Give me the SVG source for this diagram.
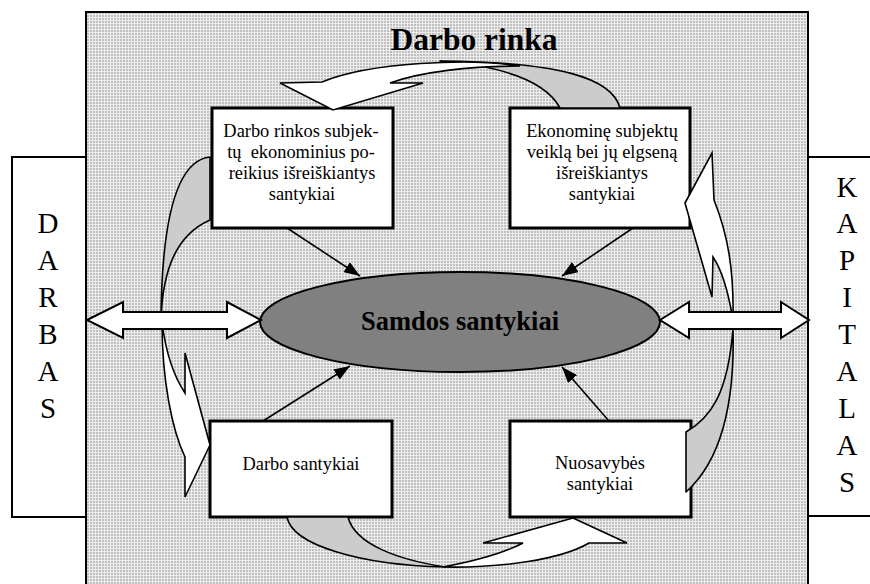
<svg xmlns="http://www.w3.org/2000/svg" width="870" height="584" viewBox="0 0 870 584" font-family="'Liberation Serif', 'Times New Roman', Times, serif">
<defs>
<pattern id="dots" width="3" height="3" patternUnits="userSpaceOnUse"><rect width="3" height="3" fill="#ececec"/><rect width="2" height="2" fill="#bfbfbf"/></pattern>
<marker id="ah" viewBox="0 0 16 12" refX="16" refY="6" markerWidth="16" markerHeight="12" markerUnits="userSpaceOnUse" orient="auto"><path d="M0,0 L16,6 L0,12 Z" fill="#000"/></marker>
<style>
text{font-family:'Liberation Serif','Times New Roman',Times,serif;fill:#000}
.box{fill:#fff;stroke:#000;stroke-width:3}
.side{fill:#fff;stroke:#000;stroke-width:2}
.back{fill:#cccccc;stroke:#000;stroke-width:1.6;stroke-linejoin:round}
.front{fill:#fff;stroke:#000;stroke-width:1.6;stroke-linejoin:miter}
.dbl{fill:#fff;stroke:#000;stroke-width:2;stroke-linejoin:miter}
.ln{stroke:#000;stroke-width:1.6;fill:none}
.side-t{font-size:29px;text-anchor:middle}
.bt{font-size:18.4px;text-anchor:middle;white-space:pre}
</style>
</defs>
<rect x="86" y="12" width="722" height="590" fill="url(#dots)" stroke="#000" stroke-width="2"/>
<g id="darbas">
<rect class="side" x="12" y="157" width="74" height="360"/>
<text class="side-t" x="48" y="233">D</text>
<text class="side-t" x="48" y="270">A</text>
<text class="side-t" x="48" y="307">R</text>
<text class="side-t" x="48" y="344">B</text>
<text class="side-t" x="48" y="381">A</text>
<text class="side-t" x="48" y="418">S</text>
</g>
<g id="kapitalas">
<rect class="side" x="808" y="157" width="80" height="359"/>
<text class="side-t" x="847" y="197">K</text>
<text class="side-t" x="847" y="233">A</text>
<text class="side-t" x="847" y="270">P</text>
<text class="side-t" x="847" y="307">I</text>
<text class="side-t" x="847" y="344">T</text>
<text class="side-t" x="847" y="381">A</text>
<text class="side-t" x="847" y="418">L</text>
<text class="side-t" x="847" y="455">A</text>
<text class="side-t" x="847" y="492">S</text>
</g>
<text id="title" x="474" y="50" font-size="31.5" font-weight="bold" text-anchor="middle">Darbo rinka</text>
<g id="box-poreikiai">
<rect class="box" x="212" y="108" width="181" height="120"/>
<text class="bt" x="301" y="137">Darbo rinkos subjek-</text>
<text class="bt" x="301" y="158" xml:space="preserve">tų  ekonominius po-</text>
<text class="bt" x="302" y="179">reikius išreiškiantys</text>
<text class="bt" x="302" y="200">santykiai</text>
</g>
<g id="box-elgsena">
<rect class="box" x="510" y="108" width="180" height="120"/>
<text class="bt" x="602" y="137">Ekonominę subjektų</text>
<text class="bt" x="602" y="158">veiklą bei jų elgseną</text>
<text class="bt" x="602" y="179">išreiškiantys</text>
<text class="bt" x="602" y="200">santykiai</text>
</g>
<g id="box-darbo">
<rect class="box" x="210" y="421" width="182" height="96"/>
<text class="bt" x="301" y="470">Darbo santykiai</text>
</g>
<g id="box-nuosavybes">
<rect class="box" x="510" y="421" width="181" height="96"/>
<text class="bt" x="600" y="469">Nuosavybės</text>
<text class="bt" x="600" y="490">santykiai</text>
</g>
<g id="samdos">
<ellipse cx="460" cy="322" rx="200" ry="50" fill="#808080" stroke="#000" stroke-width="2"/>
<text x="460" y="330" font-size="26.5" font-weight="bold" text-anchor="middle">Samdos santykiai</text>
</g>
<g id="connectors">
<path class="back" d="M620,108 C612,78 560,62 440,61 C500,66 545,80 560,108 Z"/>
<path class="front" d="M280,83 L333,110 L423,83 L390,83 C420,72 470,66 520,66 C470,58 370,62 322,82 Z"/>
<path class="back" d="M210,157 C180,160 162,210 161,318 C163,270 176,235 210,220 Z"/>
<path class="front" d="M210,445 L185,497 L185,457 C172,430 162,380 162,322 C166,355 175,378 185,393 L185,353 Z"/>
<path class="back" d="M287,517 C292,545 360,565 445,567 C400,560 355,545 348,517 Z"/>
<path class="front" d="M573,518 L627,543 L589,543 C560,560 500,568 443,567 C470,562 500,555 523,543 L483,543 Z"/>
<path class="back" d="M686,432 C710,418 728,395 733,328 C735,400 722,460 686,492 Z"/>
<path class="front" d="M685,203 L712,153 L714,200 C728,235 734,270 733,320 C728,290 722,270 713,257 L712,297 Z"/>
<path class="dbl" d="M87,320 L123,302 L123,312 L227,312 L227,302 L261,320 L227,338 L227,329 L123,329 L123,338 Z"/>
<path class="dbl" d="M660,320 L689,302 L689,312 L781,312 L781,302 L809,320 L781,338 L781,329 L689,329 L689,338 Z"/>
<line class="ln" x1="287" y1="228" x2="360" y2="276" marker-end="url(#ah)"/>
<line class="ln" x1="633" y1="228" x2="562" y2="276" marker-end="url(#ah)"/>
<line class="ln" x1="263" y1="421" x2="350" y2="366" marker-end="url(#ah)"/>
<line class="ln" x1="609" y1="421" x2="562" y2="367" marker-end="url(#ah)"/>
</g>
</svg>
